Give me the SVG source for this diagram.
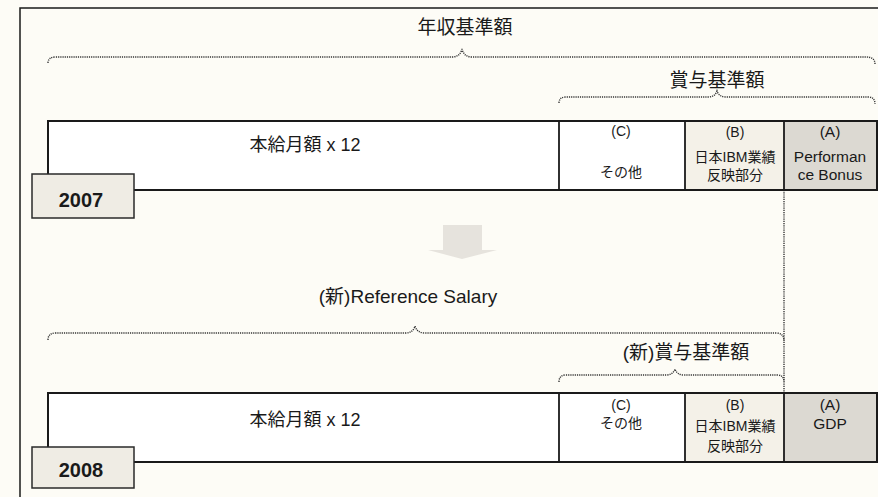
<svg xmlns="http://www.w3.org/2000/svg" width="878" height="497" viewBox="0 0 878 497">
<style>
text{font-family:"Liberation Sans","Noto Sans CJK JP",sans-serif;fill:#1a1a1a;text-anchor:middle}
.yr{stroke:#2a2a2a;stroke-width:1.5;fill:#efece4}
.b{fill:#f4f1e8}
.a{fill:#dcd9d2}
.sep{stroke:#1a1a1a;stroke-width:1.8}
.brace{fill:none;stroke:#333;stroke-width:1.4;stroke-dasharray:1.2 1}
.t18{font-size:18px}
.t14{font-size:14px}
.t15{font-size:15.5px}
.big{font-size:19px}
.yrt{font-size:20px;font-weight:bold}
</style>
<rect x="0" y="0" width="878" height="497" fill="#fdfcf6"/>
<path d="M20,497 L20,8 L878,8" fill="none" stroke="#1a1a1a" stroke-width="1.5"/>

<g id="braces">
<path class="brace" d="M48,63 Q48,57 56,57 L452,57 Q460,57 462,49 Q464,57 472,57 L866,57 Q875,57 875,64"/>
<path class="brace" d="M559,103 Q559,97 566,97 L708,97 Q715,97 717,91 Q719,97 726,97 L868,97 Q875,97 875,104"/>
<path class="brace" d="M48,340 Q48,333 56,333 L405,333 Q413,333 415,326 Q417,333 425,333 L776,333 Q784,333 784,341"/>
<path class="brace" d="M559,382 Q559,375 566,375 L666,375 Q673,375 675,369 Q677,375 684,375 L777,375 Q784,375 784,382"/>
<line class="brace" x1="784" y1="190" x2="784" y2="393"/>
</g>

<g id="labels">
<text class="big" x="465" y="34">年収基準額</text>
<text class="big" x="717" y="87">賞与基準額</text>
<text class="big" x="408" y="303">(新)Reference Salary</text>
<text class="big" x="686" y="359">(新)賞与基準額</text>
</g>

<g id="arrow">
<path d="M443,225 L482,225 L482,250 L497,250 L462,259 L428,250 L443,250 Z" fill="#e6e3dd"/>
</g>

<g id="row2007">
<path d="M48,174 L48,121 L877,121 L877,190 L134,190" fill="#ffffff" stroke="#1a1a1a" stroke-width="2"/>
<rect class="b" x="685" y="122" width="99" height="67"/>
<rect class="a" x="784" y="122" width="92" height="67"/>
<line class="sep" x1="559" y1="121" x2="559" y2="190"/>
<line class="sep" x1="685" y1="121" x2="685" y2="190"/>
<line class="sep" x1="784" y1="121" x2="784" y2="190"/>
<text class="t18" x="305" y="151">本給月額  x 12</text>
<text class="t14" x="621" y="136">(C)</text>
<text class="t14" x="621" y="177">その他</text>
<text class="t14" x="735" y="137">(B)</text>
<text class="t14" x="735" y="162">日本IBM業績</text>
<text class="t14" x="735" y="180">反映部分</text>
<text class="t15" x="830" y="137">(A)</text>
<text class="t15" x="830" y="162">Performan</text>
<text class="t15" x="830" y="180">ce Bonus</text>
<rect class="yr" x="32" y="174" width="102" height="44"/>
<text class="yrt" x="81" y="207">2007</text>
</g>

<g id="row2008">
<path d="M48,447 L48,393 L877,393 L877,462 L134,462" fill="#ffffff" stroke="#1a1a1a" stroke-width="2"/>
<rect class="b" x="685" y="394" width="99" height="67"/>
<rect class="a" x="784" y="394" width="92" height="67"/>
<line class="sep" x1="559" y1="393" x2="559" y2="462"/>
<line class="sep" x1="685" y1="393" x2="685" y2="462"/>
<line class="sep" x1="784" y1="393" x2="784" y2="462"/>
<text class="t18" x="305" y="426">本給月額  x 12</text>
<text class="t14" x="621" y="410">(C)</text>
<text class="t14" x="621" y="428">その他</text>
<text class="t14" x="735" y="410">(B)</text>
<text class="t14" x="735" y="431">日本IBM業績</text>
<text class="t14" x="735" y="451">反映部分</text>
<text class="t15" x="830" y="410">(A)</text>
<text class="t15" x="830" y="429">GDP</text>
<rect class="yr" x="32" y="447" width="102" height="41"/>
<text class="yrt" x="81" y="477">2008</text>
</g>
</svg>
